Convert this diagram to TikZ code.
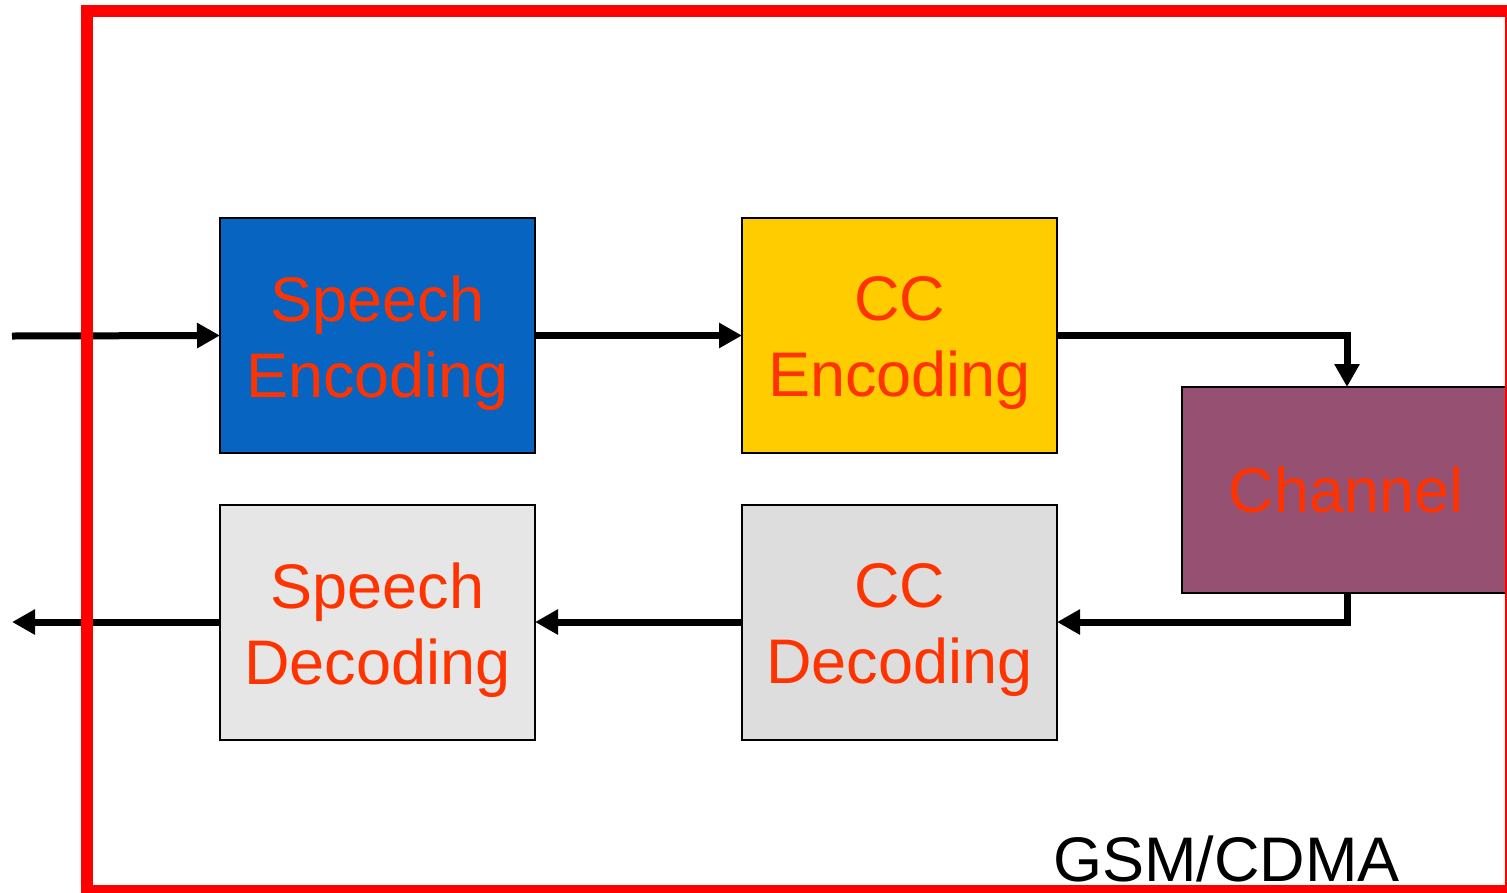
\documentclass[tikz,border=0pt]{standalone}
\usepackage{fontspec}
\setmainfont{Liberation Sans}
\usetikzlibrary{arrows.meta}
\definecolor{seblue}{HTML}{0764C0}
\definecolor{ccyellow}{HTML}{FFCC00}
\definecolor{chpurple}{HTML}{955072}
\definecolor{sdgray}{HTML}{E6E6E6}
\definecolor{ccdgray}{HTML}{DDDDDD}
\definecolor{labelred}{HTML}{FF3300}
\definecolor{framered}{HTML}{FF0000}
\tikzset{
  block/.style={draw=black, line width=2pt, inner sep=0pt, outer sep=0pt,
    minimum width=315pt, minimum height=235pt},
  blocktext/.style={inner sep=0pt, align=center, text=labelred,
    font=\fontsize{63}{76}\selectfont},
  flow/.style={draw=black, line width=7pt,
    -{Triangle[length=23pt, width=24pt]}},
}
\begin{document}
\begin{tikzpicture}[x=1pt, y=-1pt]
\useasboundingbox (0,0) rectangle (1507,892);
\clip (0,0) rectangle (1507,892);

% processing blocks
\node[block, fill=seblue] (se) at (377.5,335.5) {};
\node[block, fill=ccyellow] (cce) at (899.5,335.5) {};
\node[block, fill=sdgray] (sd) at (377.5,622) {};
\node[block, fill=ccdgray] (ccd) at (899.5,622) {};
\node[block, fill=chpurple, minimum width=324pt, minimum height=206pt]
  (ch) at (1344,490) {};

% block captions
\node[blocktext] (se-t) at ([yshift=-8pt]se.center) {Speech\\Encoding};
\node[blocktext] (cce-t) at ([yshift=-8pt]cce.center) {CC\\Encoding};
\node[blocktext] (sd-t) at ([yshift=-8pt]sd.center) {Speech\\Decoding};
\node[blocktext] (ccd-t) at ([yshift=-8pt]ccd.center) {CC\\Decoding};
\node[blocktext] (ch-t) at ([xshift=2pt]ch.center) {Channel};

% signal path
\coordinate (in) at (12,336);
\coordinate (out) at (12,622);
\draw[flow] (in) -- (se.west);
\draw[flow] (se) -- (cce);
\draw[flow] (cce.east) -| ([xshift=3pt]ch.north);
\draw[flow] ([xshift=3pt]ch.south) |- (ccd.east);
\draw[flow] (ccd) -- (sd);
\draw[flow] (sd.west) -- (out);

% system boundary
\draw[framered, line width=12pt] (87,11) rectangle (1511,891);
\node[anchor=base west, inner sep=0pt, font=\fontsize{63}{75}\selectfont]
  (sys) at (1053,881) {GSM/CDMA};
\end{tikzpicture}
\end{document}
